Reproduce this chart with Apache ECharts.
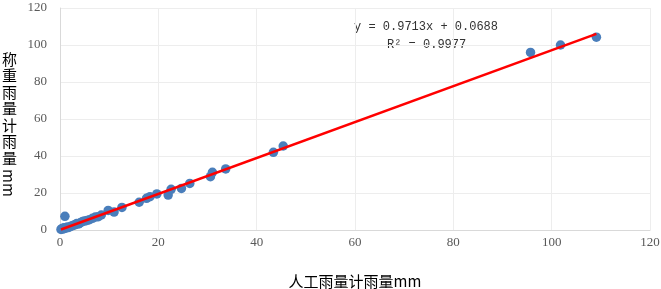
<!DOCTYPE html>
<html>
<head>
<meta charset="utf-8">
<script src="https://cdn.jsdelivr.net/npm/echarts@6/dist/echarts.min.js"></script>
<style>
  html, body { margin: 0; padding: 0; background: #fff; }
  #chart { width: 661px; height: 289px; }
</style>
</head>
<body>
<div id="chart"></div>
<script>
// manual gauge (x) vs weighing gauge (y), mm
const manualMm = [0.2, 0.4, 0.6, 0.8, 1.0, 1.2, 1.5, 1.8, 2.2, 2.6, 3.0, 3.4, 3.8, 4.2, 4.6, 5.0, 5.5, 6.0, 6.6, 7.2, 7.8, 8.4,
  9.8, 11.0, 12.6, 16.1, 17.6, 18.3, 19.7, 22.0, 22.6, 24.7, 26.4, 30.6, 31.0, 33.7, 43.4, 45.4, 95.7, 101.8, 109.1]
const weighMm = [0.3, 0.8, 0.5, 1.2, 7.4, 1.0, 1.6, 1.4, 2.0, 2.4, 2.8, 3.5, 3.3, 4.0, 4.6, 4.8, 5.2, 5.6, 6.3, 7.0, 7.2, 8.1,
  10.6, 9.7, 12.2, 15.0, 17.1, 18.0, 19.5, 18.9, 22.0, 22.5, 25.2, 28.8, 31.2, 33.0, 42.0, 45.4, 96.0, 100.0, 104.2]

// fitted line end points as drawn
const trendX = [0.2, 109.1]
const trendY = [0.26, 106.0]

const axisTicks = { min: 0, max: 120, interval: 20 }
const fitText = ['y = 0.9713x + 0.0688', 'R² = 0.9977']

const chart = echarts.init(document.getElementById('chart'))

const axisCommon = {
  type: 'value',
  min: axisTicks.min,
  max: axisTicks.max,
  interval: axisTicks.interval,
  axisLine: { show: true, lineStyle: { color: '#d9d9d9' } },
  axisTick: { show: false },
  splitLine: { lineStyle: { color: '#ededed' } },
  axisLabel: { color: '#595959', fontFamily: 'Liberation Serif', fontSize: 13 }
}

chart.setOption({
  animation: false,
  grid: { left: 60, right: 11, top: 8, bottom: 59, outerBoundsMode: 'none' },
  xAxis: Object.assign({}, axisCommon, {
    axisLabel: Object.assign({}, axisCommon.axisLabel, { margin: 6 }),
    name: '人工雨量计雨量mm',
    nameLocation: 'middle',
    nameGap: 44,
    nameTextStyle: { fontFamily: 'Noto Sans CJK SC', fontSize: 15, color: '#000' }
  }),
  yAxis: Object.assign({}, axisCommon, {
    axisLabel: Object.assign({}, axisCommon.axisLabel, { margin: 13 })
  }),
  graphic: [
    {
      type: 'text', left: 2, top: 51,
      style: {
        text: '称\n重\n雨\n量\n计\n雨\n量',
        font: '15px "Noto Sans CJK SC"', fill: '#000', lineHeight: 16.5
      }
    },
    {
      type: 'text', x: 16, y: 169, rotation: -Math.PI / 2,
      style: { text: 'mm', font: '15px "Noto Sans CJK SC"', fill: '#000' }
    },
    {
      type: 'text', left: 354, top: 21,
      style: { text: fitText[0], font: '12px "Liberation Mono"', fill: '#333' }
    },
    {
      type: 'text', left: 387, top: 39,
      style: { text: fitText[1], font: '12px "Liberation Mono"', fill: '#333' }
    }
  ],
  series: [
    {
      type: 'scatter',
      symbolSize: 9.5,
      itemStyle: { color: '#4a7ebb', opacity: 1 },
      data: manualMm.map((x, i) => [x, weighMm[i]]),
      z: 2
    },
    {
      type: 'line',
      symbol: 'none',
      lineStyle: { color: '#ff0000', width: 2.5 },
      data: trendX.map((x, i) => [x, trendY[i]]),
      z: 3
    }
  ]
})
</script>
</body>
</html>
